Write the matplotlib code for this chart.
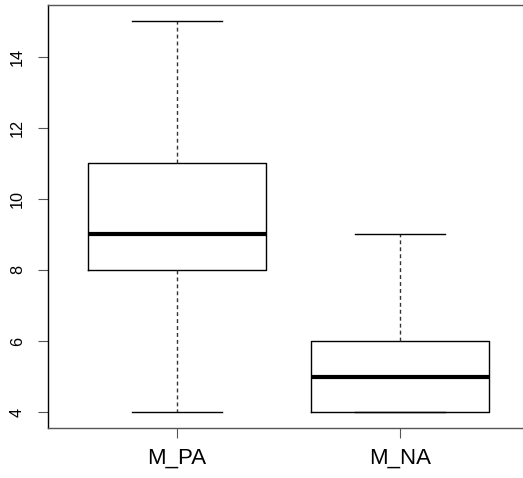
import matplotlib
matplotlib.use("Agg")
import matplotlib.pyplot as plt

# box statistics
groups = ["M_PA", "M_NA"]
whisker_low = [4, 4]
q1 = [8, 4]
medians = [9, 5]
q3 = [11, 6]
whisker_high = [15, 9]

yticks = [4, 6, 8, 10, 12, 14]

plt.rcParams["font.family"] = ["Liberation Sans", "DejaVu Sans"]

fig = plt.figure(figsize=(5.23, 4.78), dpi=100)
ax = fig.add_axes([47.5 / 523, 50.3 / 478, 482 / 523, 422.4 / 478])

stats = []
for i, name in enumerate(groups):
    stats.append({
        "label": name,
        "whislo": whisker_low[i],
        "q1": q1[i],
        "med": medians[i],
        "q3": q3[i],
        "whishi": whisker_high[i],
        "fliers": [],
    })

ax.bxp(
    stats,
    positions=[1, 2],
    widths=0.8,
    showfliers=False,
    boxprops=dict(color="black", linewidth=1),
    medianprops=dict(color="black", linewidth=3, solid_capstyle="butt"),
    whiskerprops=dict(color="#333333", linewidth=1, linestyle=(0, (2.8, 2.2))),
    capprops=dict(color="black", linewidth=1),
    capwidths=0.4,
)

ax.set_xlim(0.42, 2.58)
ax.set_ylim(3.56, 15.44)
ax.set_yticks(yticks)
ax.set_yticklabels([str(v) for v in yticks], rotation=90, va="center", fontsize=11.7)
ax.set_xticks([1, 2])
ax.set_xticklabels(groups, fontsize=16)
ax.tick_params(axis="y", length=7.2, width=0.8, pad=9, color="#555555")
ax.tick_params(axis="x", length=7.2, width=0.8, pad=7, color="#555555")
for side in ["left", "bottom", "top"]:
    ax.spines[side].set_linewidth(1)
ax.spines["right"].set_visible(False)
ax.spines["top"].set_color("#555555")
ax.spines["bottom"].set_color("#555555")

fig.savefig("out.png", dpi=100)
